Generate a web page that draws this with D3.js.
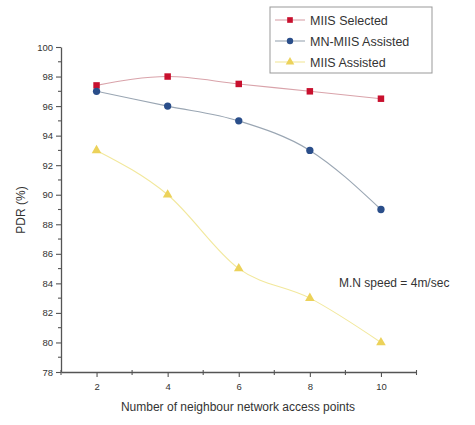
<!DOCTYPE html>
<html><head><meta charset="utf-8">
<script src="https://cdn.jsdelivr.net/npm/d3@7"></script>
<style>body{margin:0;background:#fff}svg{display:block}text{font-family:"Liberation Sans",Arial,sans-serif;fill:#333}</style>
</head><body>
<script>
const xValues = [2, 4, 6, 8, 10];
const miisSelected = [97.4, 98, 97.5, 97, 96.5];
const mnMiisAssisted = [97, 96, 95, 93, 89];
const miisAssisted = [93, 90, 85, 83, 80];
const seriesNames = ["MIIS Selected", "MN-MIIS Assisted", "MIIS Assisted"];
const xTicks = [2, 4, 6, 8, 10];
const yTicks = [78, 80, 82, 84, 86, 88, 90, 92, 94, 96, 98, 100];

const W = 475, H = 425;
const svg = d3.select("body").append("svg").attr("width", W).attr("height", H);
const x = d3.scaleLinear().domain([1, 11]).range([61, 416.5]);
const y = d3.scaleLinear().domain([78, 100]).range([372, 47]);

const g = svg.append("g");
const xAxis = d3.axisBottom(x).tickValues(xTicks).tickSize(5).tickSizeOuter(0).tickPadding(6);
const gx = g.append("g").attr("transform", `translate(0,${y(78)})`).call(xAxis);
const yAxis = d3.axisLeft(y).tickValues(yTicks).tickSize(5).tickSizeOuter(0).tickPadding(3);
const gy = g.append("g").attr("transform", `translate(${x(1)},0)`).call(yAxis);
[gx, gy].forEach(a => {
  a.select(".domain").attr("stroke", "#555").attr("stroke-width", 1.3);
  a.selectAll(".tick line").attr("stroke", "#555").attr("stroke-width", 1.1);
  a.selectAll(".tick text").attr("font-size", 9.5).attr("fill", "#555").style("font-family", "Liberation Sans, Arial, sans-serif");
});
const xMinor = [1, 3, 5, 7, 9, 11];
g.selectAll(".xm").data(xMinor).enter().append("line")
  .attr("x1", d => x(d)).attr("x2", d => x(d)).attr("y1", y(78) - 2).attr("y2", y(78) + 3)
  .attr("stroke", "#555").attr("stroke-width", 1.1);
const yMinor = d3.range(79, 100, 2);
g.selectAll(".ym").data(yMinor).enter().append("line")
  .attr("x1", x(1) - 3).attr("x2", x(1) + 1).attr("y1", d => y(d)).attr("y2", d => y(d))
  .attr("stroke", "#555").attr("stroke-width", 1.1);

const series = [
  {name: seriesNames[0], values: miisSelected, line: "#d9a3aa", fill: "#c8102e", shape: d3.symbolSquare},
  {name: seriesNames[1], values: mnMiisAssisted, line: "#9aa6b3", fill: "#2a4e8a", shape: d3.symbolCircle},
  {name: seriesNames[2], values: miisAssisted, line: "#f2e89c", fill: "#ecd25a", shape: d3.symbolTriangle}
];
const lineGen = d3.line().x((d, i) => x(xValues[i])).y(d => y(d)).curve(d3.curveMonotoneX);
series.forEach(s => {
  g.append("path").attr("d", lineGen(s.values)).attr("fill", "none").attr("stroke", s.line).attr("stroke-width", 1.1);
  g.selectAll(null).data(s.values).enter().append("path")
    .attr("d", d3.symbol().type(s.shape).size(s.shape === d3.symbolTriangle ? 40 : 42))
    .attr("transform", (d, i) => `translate(${x(xValues[i])},${y(d)})`)
    .attr("fill", s.fill);
});

const lg = svg.append("g");
lg.append("rect").attr("x", 270).attr("y", 7).attr("width", 162).attr("height", 66)
  .attr("fill", "#fff").attr("stroke", "#999").attr("stroke-width", 1);
series.forEach((s, i) => {
  const cy = 20 + i * 21;
  lg.append("line").attr("x1", 275).attr("x2", 305).attr("y1", cy).attr("y2", cy).attr("stroke", s.line).attr("stroke-width", 1.1);
  lg.append("path").attr("d", d3.symbol().type(s.shape).size(32)).attr("transform", `translate(290,${cy})`).attr("fill", s.fill);
  lg.append("text").attr("x", 310).attr("y", cy + 4.5).attr("font-size", 12.5).attr("fill", "#333").text(s.name);
});

svg.append("text").attr("x", 339).attr("y", 287).attr("font-size", 12).attr("fill", "#333").text("M.N speed = 4m/sec");

svg.append("text").attr("x", 238).attr("y", 411).attr("text-anchor", "middle").attr("font-size", 12).attr("fill", "#333")
  .text("Number of neighbour network access points");
svg.append("text").attr("transform", "translate(25,210) rotate(-90)").attr("text-anchor", "middle").attr("font-size", 12).attr("fill", "#333")
  .text("PDR (%)");
</script>
</body></html>
